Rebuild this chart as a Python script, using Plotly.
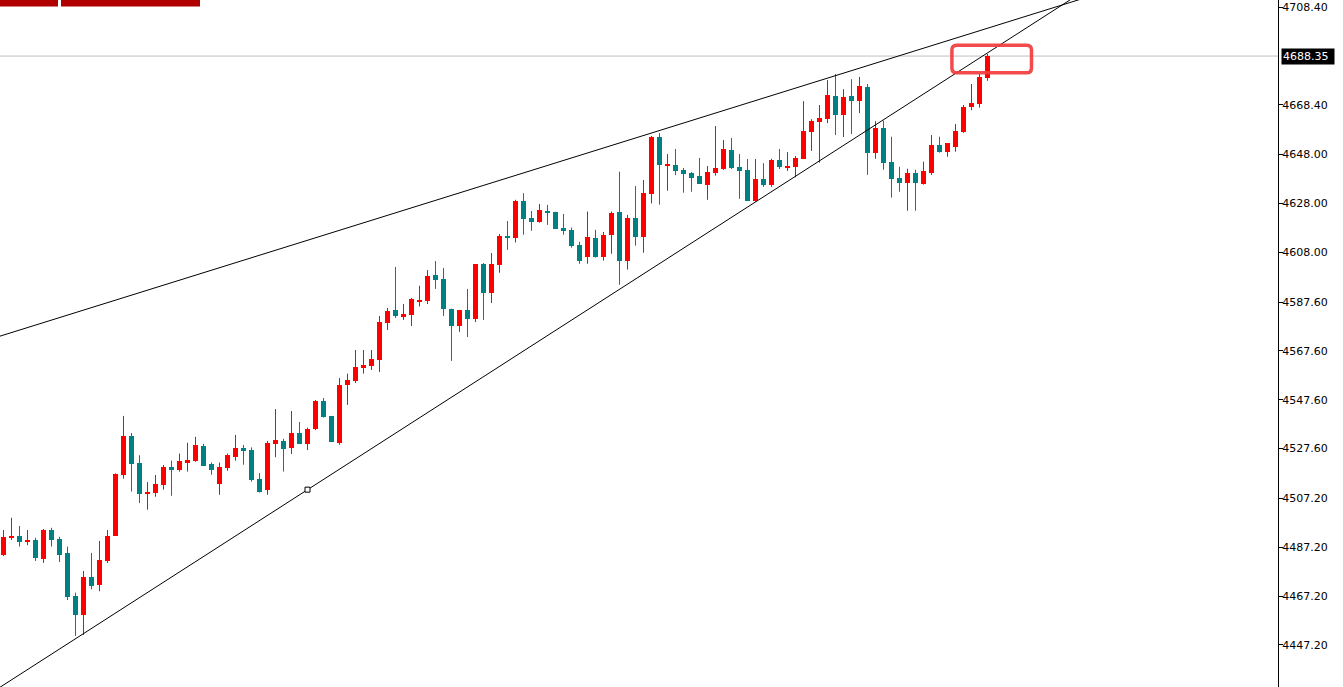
import plotly.graph_objects as go

# ---- OHLC data (index = bar number) ----
opens = [4484.1, 4491.1, 4491.8, 4489.5, 4490.2, 4482.5, 4494.3, 4490.6, 4484.9, 4467.3,
         4459.5, 4475.0, 4471.8, 4481.6, 4491.8, 4516.8, 4532.8, 4521.7, 4509.2, 4509.6,
         4512.8, 4520.1, 4518.9, 4521.9, 4522.7, 4528.7, 4521.3, 4513.2, 4519.7, 4524.1,
         4527.7, 4526.9, 4515.2, 4510.8, 4529.6, 4530.7, 4527.7, 4534.0, 4529.6, 4535.6,
         4547.1, 4541.0, 4530.0, 4553.7, 4555.3, 4560.6, 4561.5, 4563.9, 4579.0, 4584.4,
         4581.9, 4582.3, 4588.0, 4588.0, 4598.7, 4597.0, 4584.9, 4577.8, 4584.4, 4580.7,
         4603.2, 4591.3, 4602.8, 4614.7, 4614.0, 4629.1, 4622.0, 4620.5, 4625.0, 4624.6,
         4618.0, 4617.2, 4611.0, 4606.2, 4613.8, 4606.2, 4614.9, 4624.6, 4604.6, 4622.0,
         4614.4, 4632.0, 4655.2, 4643.4, 4643.7, 4641.7, 4640.4, 4639.2, 4635.7, 4640.4,
         4642.1, 4649.9, 4642.9, 4641.7, 4629.1, 4638.0, 4635.7, 4645.8, 4642.9, 4642.9,
         4646.2, 4657.2, 4661.3, 4662.5, 4671.9, 4664.2, 4671.9, 4669.9, 4675.7, 4648.8,
         4659.0, 4645.0, 4638.5, 4636.5, 4640.4, 4636.1, 4640.6, 4651.9, 4649.2, 4651.2,
         4657.2, 4667.6, 4668.8, 4679.5]
highs = [4494.3, 4499.3, 4495.9, 4494.3, 4491.1, 4494.7, 4495.2, 4491.5, 4487.5, 4468.6,
         4477.5, 4484.9, 4489.8, 4494.3, 4517.5, 4541.0, 4534.0, 4524.9, 4513.9, 4516.8,
         4520.9, 4522.7, 4525.6, 4530.0, 4532.4, 4529.6, 4521.9, 4521.9, 4525.6, 4533.2,
         4529.1, 4528.1, 4517.6, 4530.7, 4543.8, 4531.6, 4543.0, 4538.5, 4536.2, 4547.5,
         4548.3, 4541.0, 4556.5, 4558.3, 4568.0, 4568.0, 4568.0, 4581.9, 4585.2, 4602.0,
         4586.8, 4589.3, 4594.3, 4600.7, 4604.4, 4601.6, 4584.9, 4584.4, 4593.0, 4603.2,
         4603.6, 4607.7, 4615.5, 4620.8, 4629.5, 4632.2, 4624.9, 4627.8, 4627.4, 4624.6,
         4623.7, 4618.1, 4612.3, 4624.7, 4617.2, 4616.3, 4624.7, 4641.0, 4623.3, 4635.1,
         4637.6, 4655.6, 4656.8, 4648.2, 4650.3, 4642.5, 4640.8, 4646.6, 4643.3, 4659.7,
         4654.0, 4654.8, 4648.2, 4646.2, 4646.2, 4644.5, 4646.3, 4650.3, 4649.0, 4647.4,
         4669.9, 4662.5, 4668.3, 4678.5, 4681.0, 4674.8, 4678.9, 4679.8, 4676.9, 4661.7,
         4661.9, 4655.3, 4643.0, 4642.2, 4641.8, 4645.1, 4656.0, 4655.3, 4652.7, 4660.5,
         4668.3, 4676.9, 4681.0, 4689.2]
lows = [4483.6, 4490.2, 4487.5, 4488.1, 4481.6, 4480.8, 4487.5, 4481.2, 4465.6, 4450.9,
        4451.3, 4470.0, 4469.2, 4480.8, 4491.8, 4515.3, 4510.0, 4505.3, 4502.6, 4507.9,
        4510.8, 4508.3, 4518.2, 4518.2, 4522.2, 4520.6, 4516.9, 4508.7, 4518.5, 4522.7,
        4521.0, 4514.1, 4509.6, 4508.7, 4524.1, 4518.2, 4525.4, 4529.6, 4527.0, 4535.2,
        4540.3, 4530.4, 4529.2, 4545.5, 4554.5, 4558.3, 4559.8, 4559.0, 4576.2, 4581.1,
        4580.3, 4577.8, 4585.8, 4586.8, 4593.0, 4581.9, 4563.5, 4575.4, 4573.3, 4579.4,
        4580.3, 4587.2, 4599.6, 4609.0, 4612.0, 4615.2, 4616.8, 4620.1, 4619.2, 4617.7,
        4615.2, 4609.9, 4603.3, 4603.3, 4605.8, 4604.6, 4607.4, 4594.7, 4600.9, 4610.7,
        4607.8, 4628.0, 4627.5, 4633.2, 4639.6, 4632.4, 4632.8, 4636.1, 4629.5, 4639.4,
        4641.7, 4642.1, 4629.9, 4629.1, 4628.7, 4634.8, 4634.8, 4642.1, 4641.3, 4638.7,
        4646.2, 4649.5, 4644.7, 4660.9, 4656.0, 4655.2, 4656.4, 4665.0, 4639.7, 4646.3,
        4641.8, 4630.4, 4632.8, 4625.0, 4625.0, 4635.7, 4639.7, 4648.8, 4647.1, 4649.2,
        4656.9, 4666.2, 4667.2, 4678.2]
closes = [4491.5, 4491.8, 4489.5, 4490.2, 4482.9, 4494.3, 4490.3, 4484.2, 4467.0, 4459.5,
          4475.0, 4471.5, 4482.0, 4491.8, 4517.2, 4532.8, 4521.4, 4509.1, 4510.0, 4513.1,
          4520.1, 4519.0, 4522.6, 4523.0, 4529.1, 4520.6, 4519.0, 4520.1, 4524.8, 4527.7,
          4526.6, 4514.8, 4510.0, 4529.9, 4531.1, 4527.4, 4534.0, 4529.6, 4535.6, 4547.1,
          4540.6, 4530.4, 4553.7, 4555.7, 4561.0, 4561.9, 4564.3, 4579.4, 4583.9, 4581.9,
          4582.7, 4588.9, 4588.5, 4598.3, 4596.6, 4584.9, 4577.8, 4584.4, 4580.7, 4603.2,
          4591.3, 4603.2, 4614.7, 4613.8, 4629.1, 4621.7, 4620.5, 4625.3, 4624.2, 4617.7,
          4616.9, 4610.6, 4604.6, 4614.3, 4606.2, 4615.1, 4624.2, 4604.6, 4622.0, 4614.4,
          4632.3, 4655.2, 4643.8, 4643.9, 4641.4, 4640.2, 4638.5, 4636.1, 4640.8, 4642.5,
          4650.3, 4642.5, 4641.4, 4629.1, 4638.0, 4635.7, 4645.9, 4642.9, 4643.3, 4646.6,
          4657.6, 4661.7, 4663.0, 4672.4, 4664.2, 4671.5, 4669.9, 4676.1, 4648.8, 4659.0,
          4644.7, 4638.1, 4636.5, 4640.4, 4636.5, 4641.3, 4651.9, 4649.2, 4652.7, 4657.6,
          4667.5, 4669.1, 4679.7, 4688.35]

# ---- axis ticks ----
tick_values = [4708.40, 4668.40, 4648.00, 4628.00, 4608.00, 4587.60, 4567.60,
               4547.60, 4527.60, 4507.20, 4487.20, 4467.20, 4447.20]
tick_labels = ["4708.40", "4668.40", "4648.00", "4628.00", "4608.00", "4587.60", "4567.60",
               "4547.60", "4527.60", "4507.20", "4487.20", "4467.20", "4447.20"]
current_price = 4688.35

# ---- hand-drawn trendlines (bar index, price) ----
upper_line_x = [-5, 140]
upper_line_y = [4569.0, 4717.1]
lower_line_x = [-5, 140]
lower_line_y = [4420.3, 4725.4]
anchor_x = [38]
anchor_y = [4510.8]

# ---- highlight box (bar index / price) ----
box_x = [118.55, 128.5]
box_y = [4681.5, 4692.8]

UP = "#ff0000"
DOWN = "#008080"
MIN_BODY = 0.45

idx = list(range(len(opens)))

up_x, up_base, up_h = [], [], []
dn_x, dn_base, dn_h = [], [], []
wu_x, wu_y, wd_x, wd_y = [], [], [], []
for i, o, h, l, c in zip(idx, opens, highs, lows, closes):
    lo_b = min(o, c)
    hgt = max(abs(c - o), MIN_BODY)
    if c >= o:
        up_x.append(i); up_base.append(lo_b); up_h.append(hgt)
        wu_x += [i, i, None]; wu_y += [l, h, None]
    else:
        dn_x.append(i); dn_base.append(lo_b); dn_h.append(hgt)
        wd_x += [i, i, None]; wd_y += [l, h, None]

fig = go.Figure()
fig.add_trace(go.Scatter(x=wu_x, y=wu_y, mode="lines", line=dict(color=UP, width=1),
                         hoverinfo="skip"))
fig.add_trace(go.Scatter(x=wd_x, y=wd_y, mode="lines", line=dict(color=DOWN, width=1),
                         hoverinfo="skip"))
fig.add_trace(go.Bar(x=up_x, y=up_h, base=up_base, width=0.625,
                     marker=dict(color=UP, line=dict(width=0))))
fig.add_trace(go.Bar(x=dn_x, y=dn_h, base=dn_base, width=0.625,
                     marker=dict(color=DOWN, line=dict(width=0))))

fig.add_trace(go.Scatter(x=upper_line_x, y=upper_line_y, mode="lines",
                         line=dict(color="black", width=1), hoverinfo="skip"))
fig.add_trace(go.Scatter(x=lower_line_x, y=lower_line_y, mode="lines",
                         line=dict(color="black", width=1), hoverinfo="skip"))
fig.add_trace(go.Scatter(x=anchor_x, y=anchor_y, mode="markers",
                         marker=dict(symbol="square", size=5, color="white",
                                     line=dict(color="black", width=1)),
                         hoverinfo="skip"))

# current price line
fig.add_shape(type="line", xref="paper", yref="y", x0=0, x1=1,
              y0=current_price, y1=current_price,
              line=dict(color="#c0c0c0", width=1), layer="below")

# rounded red highlight box
x0, x1 = box_x
y0, y1 = box_y
rx, ry = 0.6, 2.0
path = (f"M {x0+rx},{y1} L {x1-rx},{y1} Q {x1},{y1} {x1},{y1-ry} "
        f"L {x1},{y0+ry} Q {x1},{y0} {x1-rx},{y0} L {x0+rx},{y0} "
        f"Q {x0},{y0} {x0},{y0+ry} L {x0},{y1-ry} Q {x0},{y1} {x0+rx},{y1} Z")
fig.add_shape(type="path", xref="x", yref="y", path=path,
              line=dict(color="rgba(242,60,60,0.92)", width=3.5))

# top-left red header bars
fig.add_shape(type="rect", xref="paper", yref="paper", x0=0, x1=58/1278,
              y0=1-6.5/687, y1=1, fillcolor="#b00000", line=dict(width=0))
fig.add_shape(type="rect", xref="paper", yref="paper", x0=61/1278, x1=200/1278,
              y0=1-6.5/687, y1=1, fillcolor="#b00000", line=dict(width=0))

# current price label
fig.add_annotation(xref="paper", yref="y", x=1, y=current_price, xanchor="left",
                   xshift=3, text=f"{current_price:.2f}", showarrow=False,
                   font=dict(family="DejaVu Sans", size=11, color="white"),
                   bgcolor="black", borderpad=1, width=50, align="left")

fig.update_layout(
    width=1343, height=687,
    margin=dict(l=0, r=65, t=0, b=0),
    paper_bgcolor="white", plot_bgcolor="white",
    showlegend=False, barmode="overlay", bargap=0,
    xaxis=dict(range=[-0.4375, 159.3125], visible=False, fixedrange=True),
    yaxis=dict(range=[4430.0, 4711.3], side="right", showgrid=False, zeroline=False,
               showline=True, linecolor="black", linewidth=1,
               ticks="outside", ticklen=4, tickcolor="black",
               ticklabelstandoff=-3,
               tickvals=tick_values, ticktext=tick_labels,
               tickfont=dict(family="DejaVu Sans", size=11, color="black")),
    font=dict(family="DejaVu Sans"),
)

fig.write_html("out.html", config={"displayModeBar": False},
               post_script="document.body.style.margin='0';")
